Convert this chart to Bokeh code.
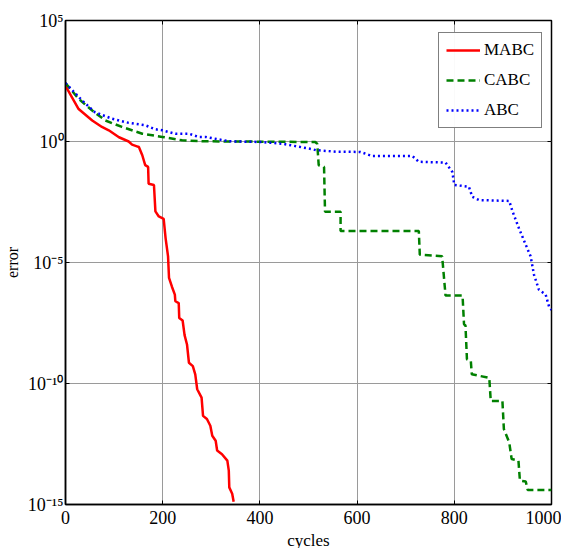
from bokeh.plotting import figure
from bokeh.models import (FixedTicker, CustomJSTickFormatter, LinearAxis, LogAxis,
                          Legend, LegendItem)
from bokeh.embed import file_html
from bokeh.resources import INLINE

# ---- data ----
mabc_cycles = [0, 27, 55, 75, 89, 110, 130, 137, 147, 151, 158, 164, 170, 171, 182, 185,
               192, 202, 206, 211, 213, 219, 225, 226, 233, 234, 241, 245, 250, 254, 262,
               267, 271, 280, 283, 291, 298, 302, 309, 312, 322, 333, 336, 337, 343, 346]
mabc_error = [2.0e2, 22, 7.4, 4.0, 2.9, 1.5, 1.0, 0.74, 0.63, 0.59, 0.27, 0.105, 0.089,
              0.018, 0.016, 1.3e-3, 8e-4, 6.3e-4, 1e-4, 1.8e-5, 2.3e-6, 1.0e-6, 4.7e-7,
              2.5e-7, 2.1e-7, 5.1e-8, 4e-8, 1.0e-8, 4.1e-9, 7.2e-10, 5.2e-10, 2.4e-10,
              5.8e-11, 2.6e-11, 4.6e-12, 3.4e-12, 1.8e-12, 6.9e-13, 4.3e-13, 1.7e-13,
              1.2e-13, 6.5e-14, 2.5e-14, 5.1e-15, 2.8e-15, 1.3e-15]

cabc_cycles = [0, 27, 55, 82, 116, 158, 199, 240, 281, 350, 514, 518, 521, 532, 534, 566,
               566, 727, 729, 775, 782, 817, 820, 823, 826, 834, 836, 872, 875, 899, 902,
               913, 918, 932, 935, 947, 951, 1000]
cabc_error = [2.6e2, 58, 19, 7.4, 4.0, 2.1, 1.55, 1.12, 1.02, 1.0, 0.95, 0.8, 0.105, 0.089,
              1.26e-3, 1.26e-3, 2.0e-4, 2.0e-4, 2.1e-5, 1.8e-5, 4.3e-7, 4.3e-7, 2.8e-8,
              2.5e-8, 1e-9, 8.5e-10, 2.4e-10, 1.7e-10, 1.9e-11, 1.9e-11, 1.3e-12, 3.7e-13,
              7.6e-14, 6.5e-14, 9.8e-15, 8.9e-15, 4.0e-15, 4.0e-15]

abc_cycles = [0, 34, 61, 96, 130, 164, 185, 199, 226, 254, 274, 288, 336, 405, 446, 508,
              515, 556, 607, 631, 714, 727, 782, 796, 800, 830, 837, 851, 913, 920, 933,
              947, 957, 964, 974, 988, 995, 1000]
abc_error = [2.6e2, 50, 16, 8.7, 5.9, 4.7, 3.2, 2.9, 2.1, 2.1, 1.55, 1.55, 1.02, 0.95, 0.81,
             0.48, 0.44, 0.38, 0.37, 0.25, 0.25, 0.145, 0.135, 0.055, 0.016, 0.0135, 5.2e-3,
             3.8e-3, 3.5e-3, 1.26e-3, 2.6e-4, 5.4e-5, 1.8e-5, 3.1e-6, 7.6e-7, 4.7e-7,
             1.5e-7, 1.1e-7]

x_ticks = [0, 200, 400, 600, 800, 1000]
y_ticks = [1e-15, 1e-10, 1e-5, 1, 1e5]
series_names = ["MABC", "CABC", "ABC"]

FONT = "Liberation Serif"

p = figure(frame_width=486, frame_height=484, y_axis_type="log", x_range=(0, 1000),
           y_range=(1e-15, 1e5), output_backend="svg", toolbar_location=None,
           min_border_left=63, min_border_right=10, min_border_top=20, min_border_bottom=30)

p.background_fill_color = "white"
p.border_fill_color = "white"
p.outline_line_color = "black"
p.outline_line_width = 1.5

sup_code = """
const e = Math.round(Math.log10(tick));
const m = {'0':'\u2070','1':'\u00b9','2':'\u00b2','3':'\u00b3','4':'\u2074','5':'\u2075',
           '6':'\u2076','7':'\u2077','8':'\u2078','9':'\u2079','-':'\u207b'};
return '10' + String(e).split('').map(c => m[c]).join('');
"""

xa = p.xaxis[0]
xa.ticker = FixedTicker(ticks=x_ticks)
ya = p.yaxis[0]
ya.ticker = FixedTicker(ticks=y_ticks)
ya.formatter = CustomJSTickFormatter(code=sup_code)

for ax in (xa, ya):
    ax.axis_line_color = "black"
    ax.axis_line_width = 1.5
    ax.major_tick_in = 4
    ax.major_tick_out = 0
    ax.minor_tick_line_color = None
    ax.major_label_text_font = FONT
    ax.major_label_text_color = "black"
    ax.axis_label_text_font = FONT
    ax.axis_label_text_font_style = "normal"
    ax.axis_label_text_color = "black"

xa.major_label_text_font_size = "18px"
ya.major_label_text_font_size = "18px"
xa.axis_label_text_font_size = "17px"
ya.axis_label_text_font_size = "16px"
xa.major_label_standoff = 6
ya.major_label_standoff = 2
xa.axis_label = "cycles"
ya.axis_label = "error"
xa.axis_label_standoff = 4
ya.axis_label_standoff = 4

# mirrored tick marks on top and right
top = LinearAxis(ticker=FixedTicker(ticks=x_ticks), major_label_text_color=None,
                 axis_line_color=None, major_tick_in=4, major_tick_out=0,
                 minor_tick_line_color=None, major_label_text_font_size="0px",
                 major_label_standoff=0)
right = LogAxis(ticker=FixedTicker(ticks=y_ticks), major_label_text_color=None,
                axis_line_color=None, major_tick_in=4, major_tick_out=0,
                minor_tick_line_color=None, major_label_text_font_size="0px",
                major_label_standoff=0)
p.add_layout(top, "above")
p.add_layout(right, "right")

p.xgrid.ticker = FixedTicker(ticks=x_ticks)
p.ygrid.ticker = FixedTicker(ticks=y_ticks)
p.xgrid.grid_line_color = "#9a9a9a"
p.ygrid.grid_line_color = "#9a9a9a"

r1 = p.line(mabc_cycles, mabc_error, line_color="#ff0000", line_width=2.5)
r2 = p.line(cabc_cycles, cabc_error, line_color="#008000", line_width=2.5, line_dash="7 4")
r3 = p.line(abc_cycles, abc_error, line_color="#0000ff", line_width=2.5, line_dash="2 3")

legend = Legend(items=[LegendItem(label=series_names[0], renderers=[r1]),
                       LegendItem(label=series_names[1], renderers=[r2]),
                       LegendItem(label=series_names[2], renderers=[r3])],
                location=(373, 376))
legend.label_text_font = FONT
legend.label_text_font_size = "17px"
legend.label_text_color = "black"
legend.border_line_color = "black"
legend.border_line_width = 1.5
legend.glyph_width = 34
legend.glyph_height = 20
legend.label_height = 20
legend.label_standoff = 4
legend.spacing = 10
legend.padding = 7
legend.margin = 0
p.add_layout(legend)

with open("out.html", "w", encoding="utf-8") as f:
    f.write(file_html(p, INLINE))
